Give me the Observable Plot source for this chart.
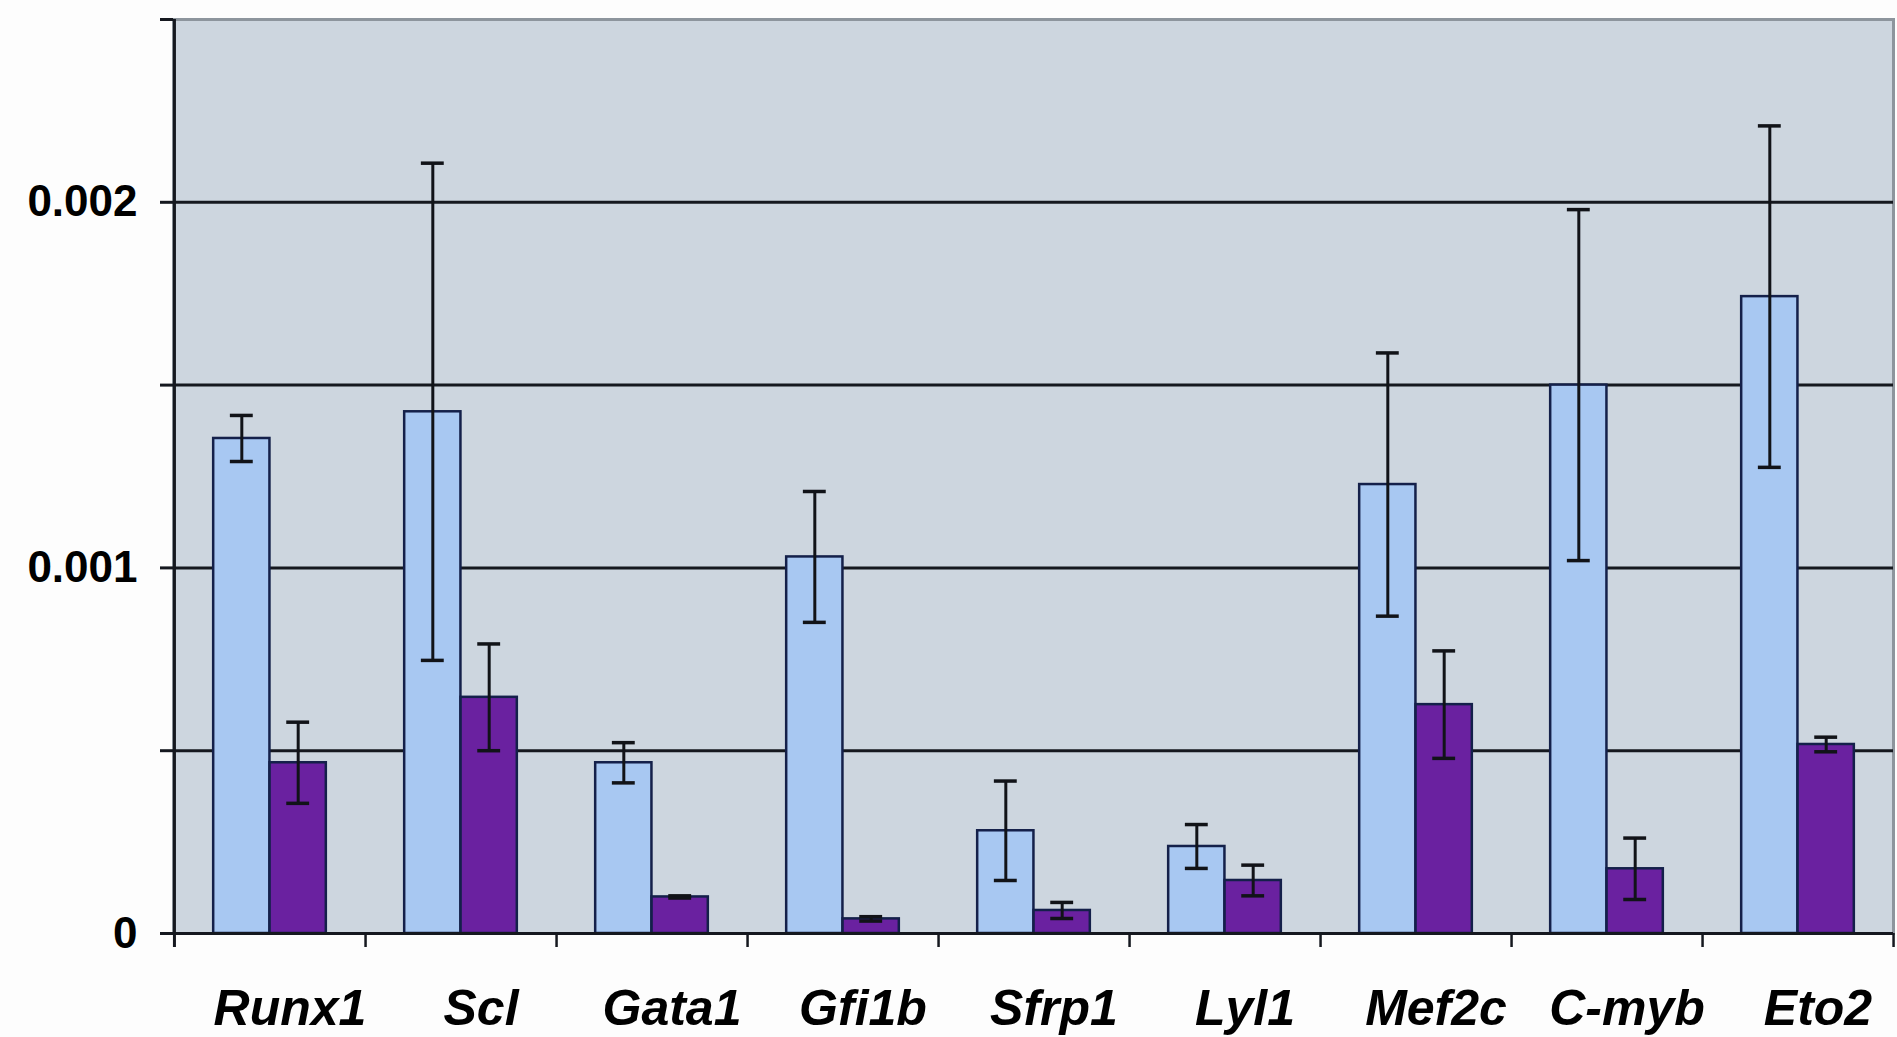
<!DOCTYPE html>
<html>
<head>
<meta charset="utf-8">
<script src="https://cdn.jsdelivr.net/npm/d3@7"></script>
<script src="https://cdn.jsdelivr.net/npm/@observablehq/plot@0.6"></script>
<style>
  html, body { margin: 0; padding: 0; background: #fdfdfd; overflow: hidden; }
  #chart svg { display: block; }
</style>
</head>
<body>
<div id="chart"></div>
<script>
// ---- data ----
const genes = ["Runx1", "Scl", "Gata1", "Gfi1b", "Sfrp1", "Lyl1", "Mef2c", "C-myb", "Eto2"];
const lightValues = [0.001354, 0.001427, 0.000467, 0.00103, 0.000281, 0.000238, 0.001228, 0.0015, 0.001742];
const lightErrors = [0.000063, 0.00068, 0.000055, 0.000179, 0.000136, 0.00006, 0.00036, 0.00048, 0.000467];
const darkValues = [0.000467, 0.000646, 0.0001, 0.00004, 0.000063, 0.000145, 0.000626, 0.000177, 0.000517];
const darkErrors = [0.000111, 0.000146, 0.000003, 0.000006, 0.000022, 0.000042, 0.000147, 0.000084, 0.00002];
const yTicks = [0, 0.0005, 0.001, 0.0015, 0.002, 0.0025];
const yTickLabels = ["0", "", "0.001", "", "0.002", ""];
const yGrid = [0.0005, 0.001, 0.0015, 0.002];

// ---- layout ----
const W = 1897, H = 1037;
const mL = 173, mR = 4, mT = 19, mB = 104;
const step = (W - mL - mR) / genes.length;
const barW = step * 0.295;
const gap = step / 2 - barW;
const capW = 23;
const capInset = (step - capW) / 2;

const light = genes.map((g, i) => ({gene: g, v: lightValues[i], e: lightErrors[i]}));
const dark = genes.map((g, i) => ({gene: g, v: darkValues[i], e: darkErrors[i]}));

const errMarks = (rows, off) => [
  Plot.ruleX(rows, {x: "gene", y1: d => d.v - d.e, y2: d => d.v + d.e, dx: off, stroke: "#111318", strokeWidth: 3}),
  Plot.tickY(rows, {x: "gene", y: d => d.v + d.e, dx: off, insetLeft: capInset, insetRight: capInset, stroke: "#111318", strokeWidth: 3.5}),
  Plot.tickY(rows, {x: "gene", y: d => d.v - d.e, dx: off, insetLeft: capInset, insetRight: capInset, stroke: "#111318", strokeWidth: 3.5})
];

const chart = Plot.plot({
  width: W,
  height: H,
  marginLeft: mL,
  marginRight: mR,
  marginTop: mT,
  marginBottom: mB,
  style: {fontFamily: "'Liberation Sans', Arial, sans-serif", background: "#fdfdfd", color: "#000"},
  x: {type: "band", domain: genes, paddingInner: 0, paddingOuter: 0, label: null},
  y: {domain: [0, 0.0025], label: null},
  marks: [
    Plot.frame({fill: "#CDD6DF", stroke: "#8d959d", strokeWidth: 3}),
    Plot.ruleY(yGrid, {stroke: "#15181f", strokeWidth: 3}),
    Plot.barY(light, {x: "gene", y: "v", insetLeft: gap, insetRight: gap + barW, fill: "#A8C8F2", stroke: "#14204a", strokeWidth: 2.5}),
    Plot.barY(dark, {x: "gene", y: "v", insetLeft: gap + barW, insetRight: gap, fill: "#6A21A0", stroke: "#14204a", strokeWidth: 2.5}),
    ...errMarks(light, -barW / 2),
    ...errMarks(dark, barW / 2),
    Plot.ruleY([0], {stroke: "#15181f", strokeWidth: 3}),
    Plot.ruleX([genes[0]], {x: d => d, dx: -step / 2, stroke: "#15181f", strokeWidth: 3, insetBottom: -14}),
    Plot.axisX(genes, {tickSize: 14, text: null, dx: step / 2, stroke: "#15181f", strokeWidth: 2.5}),
    Plot.axisX(genes, {tickSize: 0, tickPadding: 56, dx: 20, fontSize: 50, fontWeight: "bold", fontStyle: "italic", fill: "#000"}),
    Plot.axisY(yTicks, {tickSize: 13, tickPadding: 23, strokeWidth: 3, stroke: "#15181f",
      tickFormat: d => yTickLabels[yTicks.indexOf(d)], fontSize: 44, fontWeight: "bold", fill: "#000"})
  ]
});
document.getElementById("chart").appendChild(chart);
</script>
</body>
</html>
